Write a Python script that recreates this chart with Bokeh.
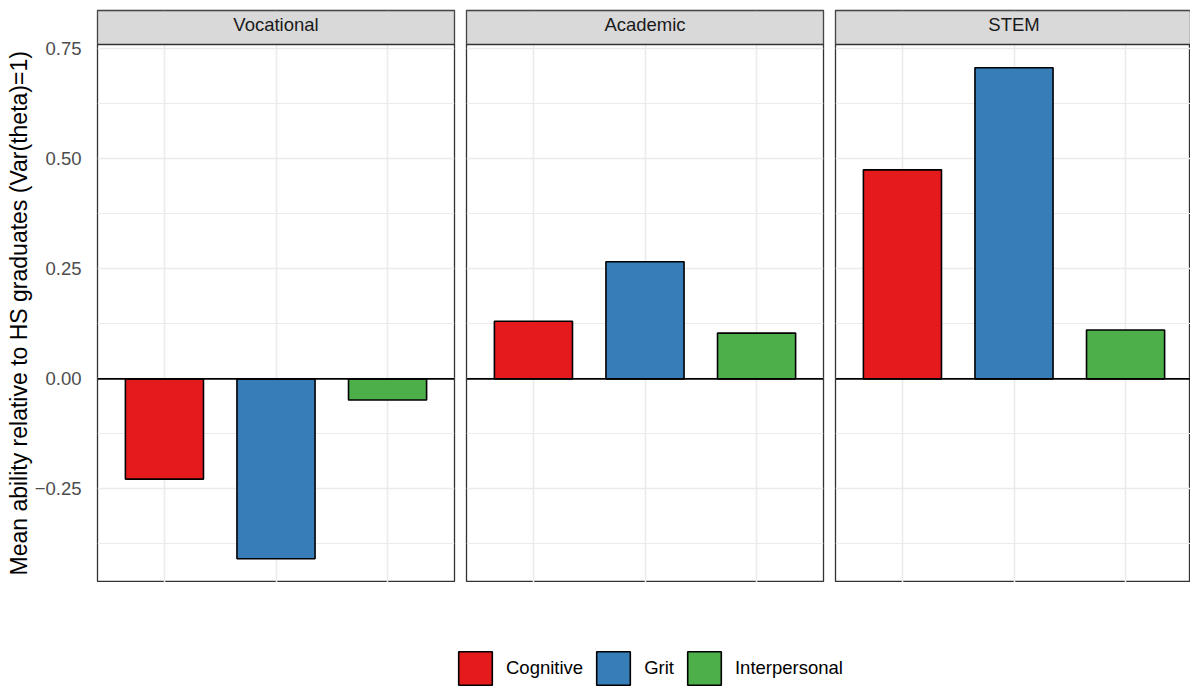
from bokeh.plotting import figure
from bokeh.layouts import column, row
from bokeh.models import (Range1d, FixedTicker, Grid, Span, Label, Legend, LegendItem,
                          BoxAnnotation, Title)
from bokeh.embed import file_html
from bokeh.resources import INLINE

# ---------------- data ----------------
facets = ["Vocational", "Academic", "STEM"]
skills = ["Cognitive", "Grit", "Interpersonal"]
vocational = [-0.228, -0.409, -0.048]
academic = [0.131, 0.266, 0.104]
stem = [0.475, 0.707, 0.111]
colors = ["#E41A1C", "#377EB8", "#4DAF4A"]
y_ticks = [-0.25, 0.0, 0.25, 0.50, 0.75]
y_tick_labels = ["\u22120.25", "0.00", "0.25", "0.50", "0.75"]
y_minor = [-0.375, -0.125, 0.125, 0.375, 0.625]
y_title = "Mean ability relative to HS  graduates (Var(theta)=1)"

values = [vocational, academic, stem]

FONT = "Liberation Sans"
Y_LO, Y_HI = -0.463, 0.760
PANEL_H = 538                      # plotting area height in px
PX_PER_Y = PANEL_H / (Y_HI - Y_LO)
STRIP_H = 34
TOP_PAD = 10
Y_TOP = Y_HI + STRIP_H / PX_PER_Y  # top of strip
X_LO, X_HI = 0.4, 3.6
FULL_FRAME_W = 357
PX_PER_X = FULL_FRAME_W / (X_HI - X_LO)
GRID_COL = "#EBEBEB"
BORDER_COL = "#333333"

# (min_border_left, frame width, min_border_right)
specs = [(97, 357, 6), (6, 357, 6), (6, 355, 0)]

xpos = [i + 1 for i in range(len(skills))]
x_mid = (X_LO + X_HI) / 2

figs = []
for k, (facet, vals, (bl, fw, br)) in enumerate(zip(facets, values, specs)):
    x_hi = X_LO + fw / PX_PER_X
    width = bl + fw + br

    p = figure(width=width, height=TOP_PAD + STRIP_H + PANEL_H,
               x_range=Range1d(X_LO, x_hi), y_range=Range1d(Y_LO, Y_TOP),
               x_axis_location=None, y_axis_location=("left" if k == 0 else None),
               toolbar_location=None, output_backend="svg")
    p.min_border_left = bl
    p.min_border_right = br
    p.min_border_top = TOP_PAD
    p.min_border_bottom = 0
    p.grid.visible = False
    p.background_fill_color = "white"
    p.border_fill_color = "white"
    p.outline_line_color = BORDER_COL
    p.outline_line_width = 1.3

    p.add_layout(Grid(dimension=0, ticker=FixedTicker(ticks=xpos),
                      grid_line_color=GRID_COL, grid_line_width=1.6))
    p.add_layout(Grid(dimension=1, ticker=FixedTicker(ticks=y_ticks, minor_ticks=y_minor),
                      grid_line_color=GRID_COL, grid_line_width=1.6,
                      minor_grid_line_color=GRID_COL, minor_grid_line_width=1.0))

    if k == 0:
        ax = p.yaxis[0]
        ax.ticker = FixedTicker(ticks=y_ticks, minor_ticks=[])
        ax.major_label_overrides = {t: l for t, l in zip(y_ticks, y_tick_labels)}
        ax.major_tick_line_color = None
        ax.minor_tick_line_color = None
        ax.axis_line_color = None
        ax.major_label_standoff = 10
        ax.major_label_text_font = FONT
        ax.major_label_text_font_size = "18.5px"
        ax.major_label_text_color = "#4D4D4D"
        # axis title, starting near the bottom of the plotting area
        p.add_layout(Title(text=y_title, align="left", offset=7,
                           text_font=FONT, text_font_size="23px",
                           text_font_style="normal", text_color="black",
                           standoff=0), "left")

    p.vbar(x=xpos, top=vals, bottom=0, width=0.7, fill_color=colors,
           line_color="black", line_width=1.6)
    p.add_layout(Span(location=0, dimension="width", line_color="black", line_width=1.6))

    # facet strip
    p.add_layout(BoxAnnotation(bottom=Y_HI, fill_color="#D9D9D9", fill_alpha=1.0,
                               line_color=BORDER_COL, line_width=1.3, line_alpha=1.0))
    p.add_layout(Label(x=x_mid, y=(Y_HI + Y_TOP) / 2, y_offset=3, text=facet,
                       text_align="center", text_baseline="middle",
                       text_font=FONT, text_font_size="18.5px", text_color="#1A1A1A"))
    figs.append(p)

# ---------------- legend ----------------
lf = figure(width=1190, height=104, x_range=Range1d(0, 1), y_range=Range1d(0, 1),
            x_axis_location=None, y_axis_location=None, toolbar_location=None,
            output_backend="svg")
lf.min_border_left = 0
lf.min_border_right = 0
lf.min_border_top = 0
lf.min_border_bottom = 0
lf.grid.visible = False
lf.outline_line_color = None
items = []
for sk, c in zip(skills, colors):
    r = lf.vbar(x=[float("nan")], top=[float("nan")], width=0.5, fill_color=c,
                line_color="black", line_width=1.6)
    items.append(LegendItem(label=sk, renderers=[r]))
leg = Legend(items=items, orientation="horizontal", location=(454, -3),
             glyph_width=42, glyph_height=42, label_standoff=10, spacing=9,
             padding=0, margin=0, border_line_color=None, background_fill_alpha=0,
             label_text_font=FONT, label_text_font_size="18.5px", label_text_color="black")
lf.add_layout(leg, "center")

layout = column(row(*figs, spacing=0), lf, spacing=0)

open("out.html", "w").write(file_html(layout, INLINE))
